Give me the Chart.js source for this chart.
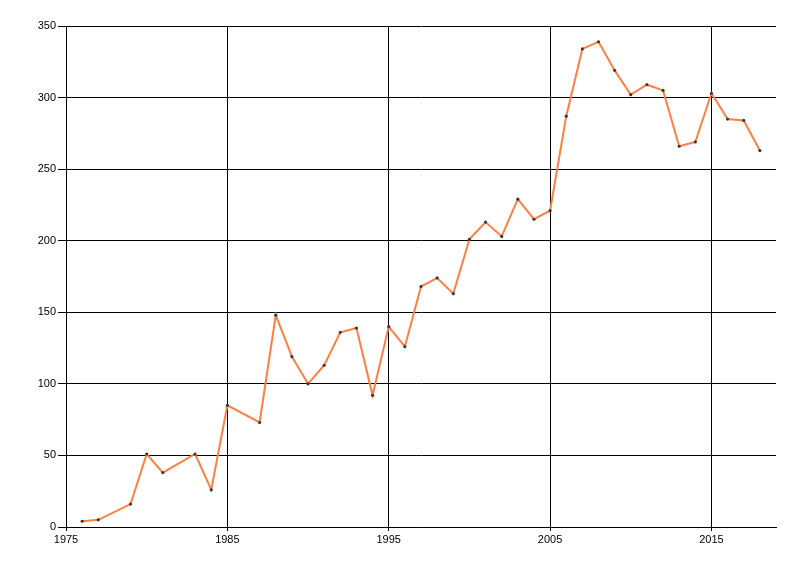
<!DOCTYPE html>
<html>
<head>
<meta charset="utf-8">
<script src="https://cdn.jsdelivr.net/npm/chart.js@4"></script>
<style>
  html, body { margin: 0; padding: 0; background: #ffffff; }
  #wrap { width: 800px; height: 576px; }
</style>
</head>
<body>
<div id="wrap"><canvas id="chart"></canvas></div>
<script>
  "use strict";

  const years = [1976, 1977, 1979, 1980, 1981, 1983, 1984, 1985, 1987, 1988, 1989, 1990, 1991, 1992, 1993, 1994, 1995,
    1996, 1997, 1998, 1999, 2000, 2001, 2002, 2003, 2004, 2005, 2006, 2007, 2008, 2009, 2010, 2011, 2012, 2013, 2014,
    2015, 2016, 2017, 2018];
  const values = [4, 5, 16, 51, 38, 51, 26, 85, 73, 148, 119, 100, 113, 136, 139, 92, 140,
    126, 168, 174, 163, 201, 213, 203, 229, 215, 221, 287, 334, 339, 319, 302, 309, 305, 266, 269,
    303, 285, 284, 263];
  const xTicks = [1975, 1985, 1995, 2005, 2015];
  const yTicks = [0, 50, 100, 150, 200, 250, 300, 350];

  const font = { family: "'Liberation Sans', Arial, sans-serif", size: 11 };

  const points = years.map((year, i) => ({ x: year, y: values[i] }));

  new Chart(document.getElementById("chart"), {
    type: "line",
    data: {
      datasets: [{
        data: points,
        borderColor: "#ff7f40",
        borderWidth: 2,
        tension: 0,
        pointRadius: 1.6,
        pointBorderWidth: 0,
        pointBackgroundColor: "#3a3a3a",
        fill: false
      }]
    },
    options: {
      responsive: true,
      maintainAspectRatio: false,
      animation: false,
      layout: { padding: { top: 26, right: 24, bottom: 0, left: 0 } },
      plugins: { legend: { display: false }, tooltip: { enabled: false } },
      scales: {
        x: {
          type: "linear",
          min: 1975,
          max: 2019,
          afterBuildTicks: (scale) => { scale.ticks = xTicks.map((v) => ({ value: v })); },
          afterFit: (scale) => { scale.height = 49; },
          grid: { color: "#000000", lineWidth: 1, tickLength: 4, drawTicks: true },
          border: { color: "#000000", width: 1 },
          ticks: { color: "#000000", font, padding: 2, maxRotation: 0, autoSkip: false,
            callback: (v) => String(v) }
        },
        y: {
          min: 0,
          max: 350,
          afterBuildTicks: (scale) => { scale.ticks = yTicks.map((v) => ({ value: v })); },
          afterFit: (scale) => { scale.width = 66; },
          grid: { color: "#000000", lineWidth: 1, tickLength: 8 },
          border: { color: "#000000", width: 1 },
          ticks: { color: "#000000", font, padding: 2, autoSkip: false }
        }
      }
    }
  });
</script>
</body>
</html>
